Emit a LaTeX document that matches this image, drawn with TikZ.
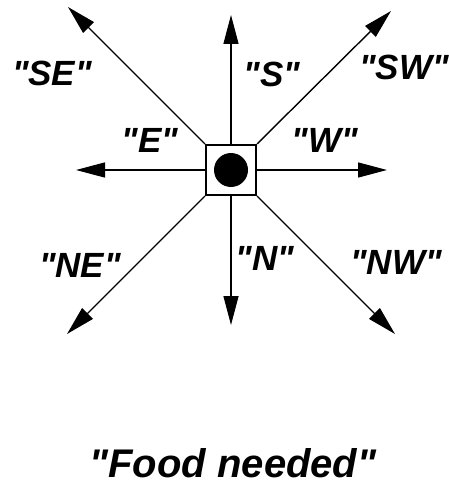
\documentclass[tikz,border=0pt]{standalone}
\usepackage{fontspec}
\setmainfont{Liberation Sans}[Ligatures=TeXOff]
\usetikzlibrary{arrows.meta}

\begin{document}
\begin{tikzpicture}[x=1pt,y=-1pt]
  \useasboundingbox (0,0) rectangle (448,487);
  \tikzset{ray/.style={draw=black,line width=1.4pt,-{Triangle[length=29pt,width=15pt]}},
           dirlabel/.style={font=\fontsize{35}{35}\selectfont\bfseries\itshape,inner sep=0pt}}
  \node[draw,line width=2pt,fill=white,minimum size=50pt,inner sep=0pt] (cell) at (231,170) {};
  \fill (cell.center) circle (17pt);
  \coordinate (tS) at (231,15);
  \coordinate (tN) at (231,325);
  \coordinate (tE) at (76,170);
  \coordinate (tW) at (387,170);
  \coordinate (tSE) at (68,7);
  \coordinate (tSW) at (391,11);
  \coordinate (tNE) at (67,334);
  \coordinate (tNW) at (395,334);
  \draw[ray] (cell.north) -- (tS);
  \draw[ray] (cell.south) -- (tN);
  \draw[ray] (cell.west) -- (tE);
  \draw[ray] (cell.east) -- (tW);
  \draw[ray] (cell.north west) -- (tSE);
  \draw[ray] (cell.north east) -- (tSW);
  \draw[ray] (cell.south west) -- (tNE);
  \draw[ray] (cell.south east) -- (tNW);
  \node[dirlabel] (lSE) at (52,73) {"SE"};
  \node[dirlabel] (lS) at (272,74) {"S"};
  \node[dirlabel] (lSW) at (404,67) {"SW"};
  \node[dirlabel] (lE) at (150,140) {"E"};
  \node[dirlabel] (lW) at (325,140) {"W"};
  \node[dirlabel] (lNE) at (80,265) {"NE"};
  \node[dirlabel] (lN) at (265,258) {"N"};
  \node[dirlabel] (lNW) at (396,262) {"NW"};
  \node[dirlabel,font=\fontsize{40}{40}\selectfont\bfseries\itshape] (title) at (233,463) {"Food needed"};
\end{tikzpicture}
\end{document}
